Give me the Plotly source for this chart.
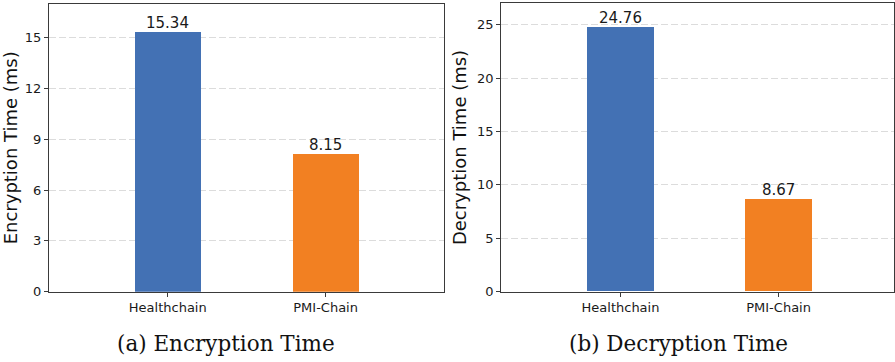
import plotly.graph_objects as go

categories = ["Healthchain", "PMI-Chain"]
encryption_ms = [15.34, 8.15]
decryption_ms = [24.76, 8.67]
enc_ticks = [0, 3, 6, 9, 12, 15]
dec_ticks = [0, 5, 10, 15, 20, 25]
colors = ["#4371B4", "#F28022"]

W, H = 895, 362

def px(x):
    return x / W

def py(y):
    return 1 - y / H

label_font = dict(family="DejaVu Sans", size=15, color="#1a1a1a")

fig = go.Figure()
fig.add_trace(go.Bar(x=[0, 1], y=encryption_ms, width=0.42, marker_color=colors,
                     marker_line_width=0, xaxis="x", yaxis="y", showlegend=False))
fig.add_trace(go.Bar(x=[0, 1], y=decryption_ms, width=0.42, marker_color=colors,
                     marker_line_width=0, xaxis="x2", yaxis="y2", showlegend=False))

axis_common = dict(showline=True, linecolor="#3a3a3a", linewidth=1.2, mirror=True,
                   ticks="outside", ticklen=4, tickcolor="#3a3a3a",
                   tickfont=dict(family="DejaVu Sans", size=13, color="#1a1a1a"),
                   zeroline=False)

grid = dict(showgrid=True, gridcolor="#dcdcdc", griddash="7px,3px", gridwidth=1)
title_font = dict(family="DejaVu Sans", size=18, color="#111")
cap_font = dict(family="DejaVu Serif", size=21.5, color="#111")

annotations = []
for xr, yr, vals in [("x", "y", encryption_ms), ("x2", "y2", decryption_ms)]:
    for i, v in enumerate(vals):
        annotations.append(dict(text=f"{v:.2f}", x=i, y=v, xref=xr, yref=yr,
                                showarrow=False, xanchor="center", yanchor="bottom",
                                yshift=-2, font=label_font))

annotations += [
    dict(text="(a) Encryption Time", x=px(226.5), y=py(351), xref="paper", yref="paper",
         showarrow=False, xanchor="center", yanchor="middle", font=cap_font),
    dict(text="(b) Decryption Time", x=px(679), y=py(351), xref="paper", yref="paper",
         showarrow=False, xanchor="center", yanchor="middle", font=cap_font),
]

fig.update_layout(
    width=W, height=H, margin=dict(l=0, r=0, t=0, b=0),
    paper_bgcolor="white", plot_bgcolor="white", bargap=0,
    xaxis=dict(domain=[px(49), px(444)], range=[-0.753, 1.747],
               tickvals=[0, 1], ticktext=categories, showgrid=False, **axis_common),
    yaxis=dict(domain=[py(298.3), py(4)], range=[0, 16.98], tickvals=enc_ticks,
               title=dict(text="Encryption Time (ms)", standoff=5, font=title_font),
               **grid, **axis_common),
    xaxis2=dict(domain=[px(501.7), 1.0], range=[-0.755, 1.73], anchor="y2",
                tickvals=[0, 1], ticktext=categories, showgrid=False, **axis_common),
    yaxis2=dict(domain=[py(298.3), py(3.3)], range=[0, 27.0], tickvals=dec_ticks, anchor="x2",
                title=dict(text="Decryption Time (ms)", standoff=5, font=title_font),
                **grid, **axis_common),
    annotations=annotations,
)

fig.write_html("out.html")
